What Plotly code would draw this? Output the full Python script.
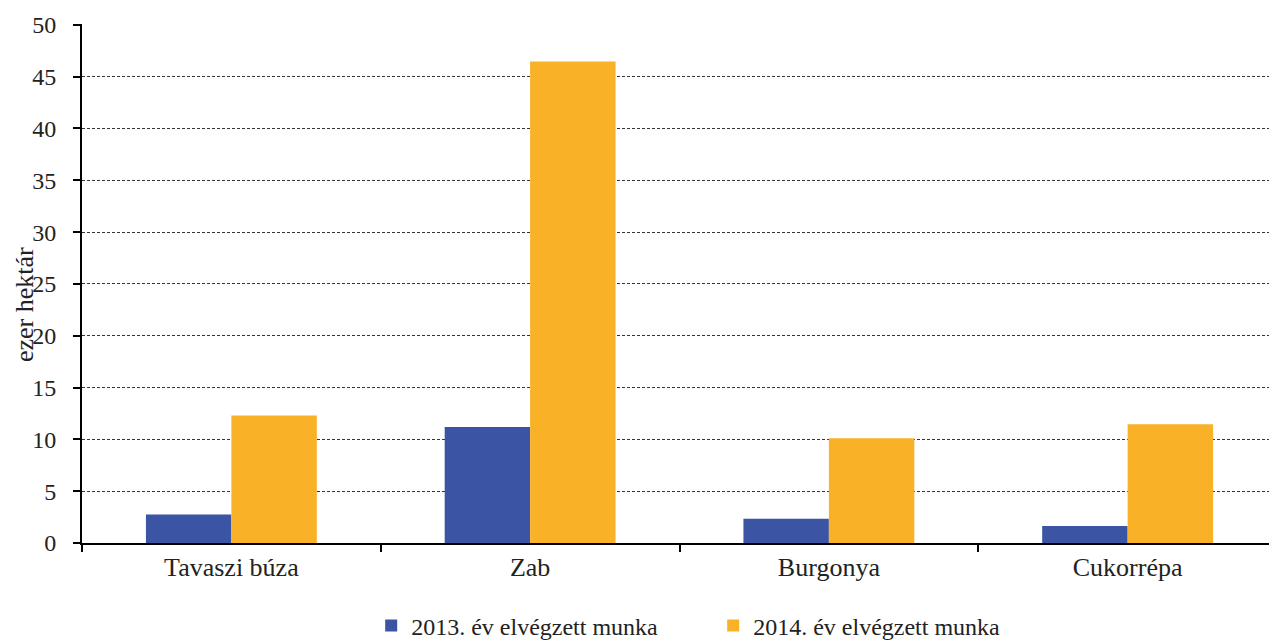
import plotly.graph_objects as go

categories = ["Tavaszi búza", "Zab", "Burgonya", "Cukorrépa"]
series_2013 = [2.75, 11.2, 2.35, 1.65]
series_2014 = [12.3, 46.45, 10.1, 11.45]
name_2013 = "2013. év elvégzett munka"
name_2014 = "2014. év elvégzett munka"
y_ticks = [0, 5, 10, 15, 20, 25, 30, 35, 40, 45, 50]
y_title = "ezer hektár"

FONT = "Liberation Serif"
TXT = "#222222"

fig = go.Figure()
fig.add_trace(go.Bar(x=categories, y=series_2013, name=name_2013,
                     marker=dict(color="#3C54A4", line=dict(width=0))))
fig.add_trace(go.Bar(x=categories, y=series_2014, name=name_2014,
                     marker=dict(color="#F9B128", line=dict(width=0))))

fig.update_layout(
    width=1269, height=633,
    margin=dict(l=74, r=0, t=16, b=98, autoexpand=False),
    paper_bgcolor="white", plot_bgcolor="white",
    barmode="group", bargap=0.428, bargroupgap=0,
    font=dict(family=FONT, color=TXT, size=23),
    showlegend=True,
    legend=dict(orientation="h", x=0.242, xanchor="left",
                yref="container", y=(633 - 618) / 633, yanchor="middle",
                font=dict(family=FONT, size=24, color=TXT),
                entrywidth=297, entrywidthmode="pixels",
                itemsizing="constant", traceorder="normal"),
)
fig.update_xaxes(
    showline=True, linecolor="black", linewidth=2,
    ticks="outside", tickson="boundaries", ticklen=7, tickwidth=2, tickcolor="black",
    tickfont=dict(family=FONT, size=26, color=TXT),
    showgrid=False, ticklabelstandoff=0, automargin=False,
)
fig.update_yaxes(
    range=[0, 50.08], tickvals=y_ticks,
    showline=True, linecolor="black", linewidth=2,
    ticks="outside", ticklen=7, tickwidth=2, tickcolor="black",
    tickfont=dict(family=FONT, size=24, color=TXT),
    showgrid=True, gridcolor="#333333", gridwidth=1, griddash="3px,2px",
    zeroline=False, ticklabelstandoff=12, automargin=False,
)
fig.add_annotation(
    text=y_title, textangle=-90, showarrow=False, borderpad=0,
    xref="paper", yref="paper", x=(24 - 82) / 1195, y=(543 - 305) / 519,
    xanchor="center", yanchor="middle",
    font=dict(family=FONT, size=26, color=TXT),
)

fig.write_html("out.html")
